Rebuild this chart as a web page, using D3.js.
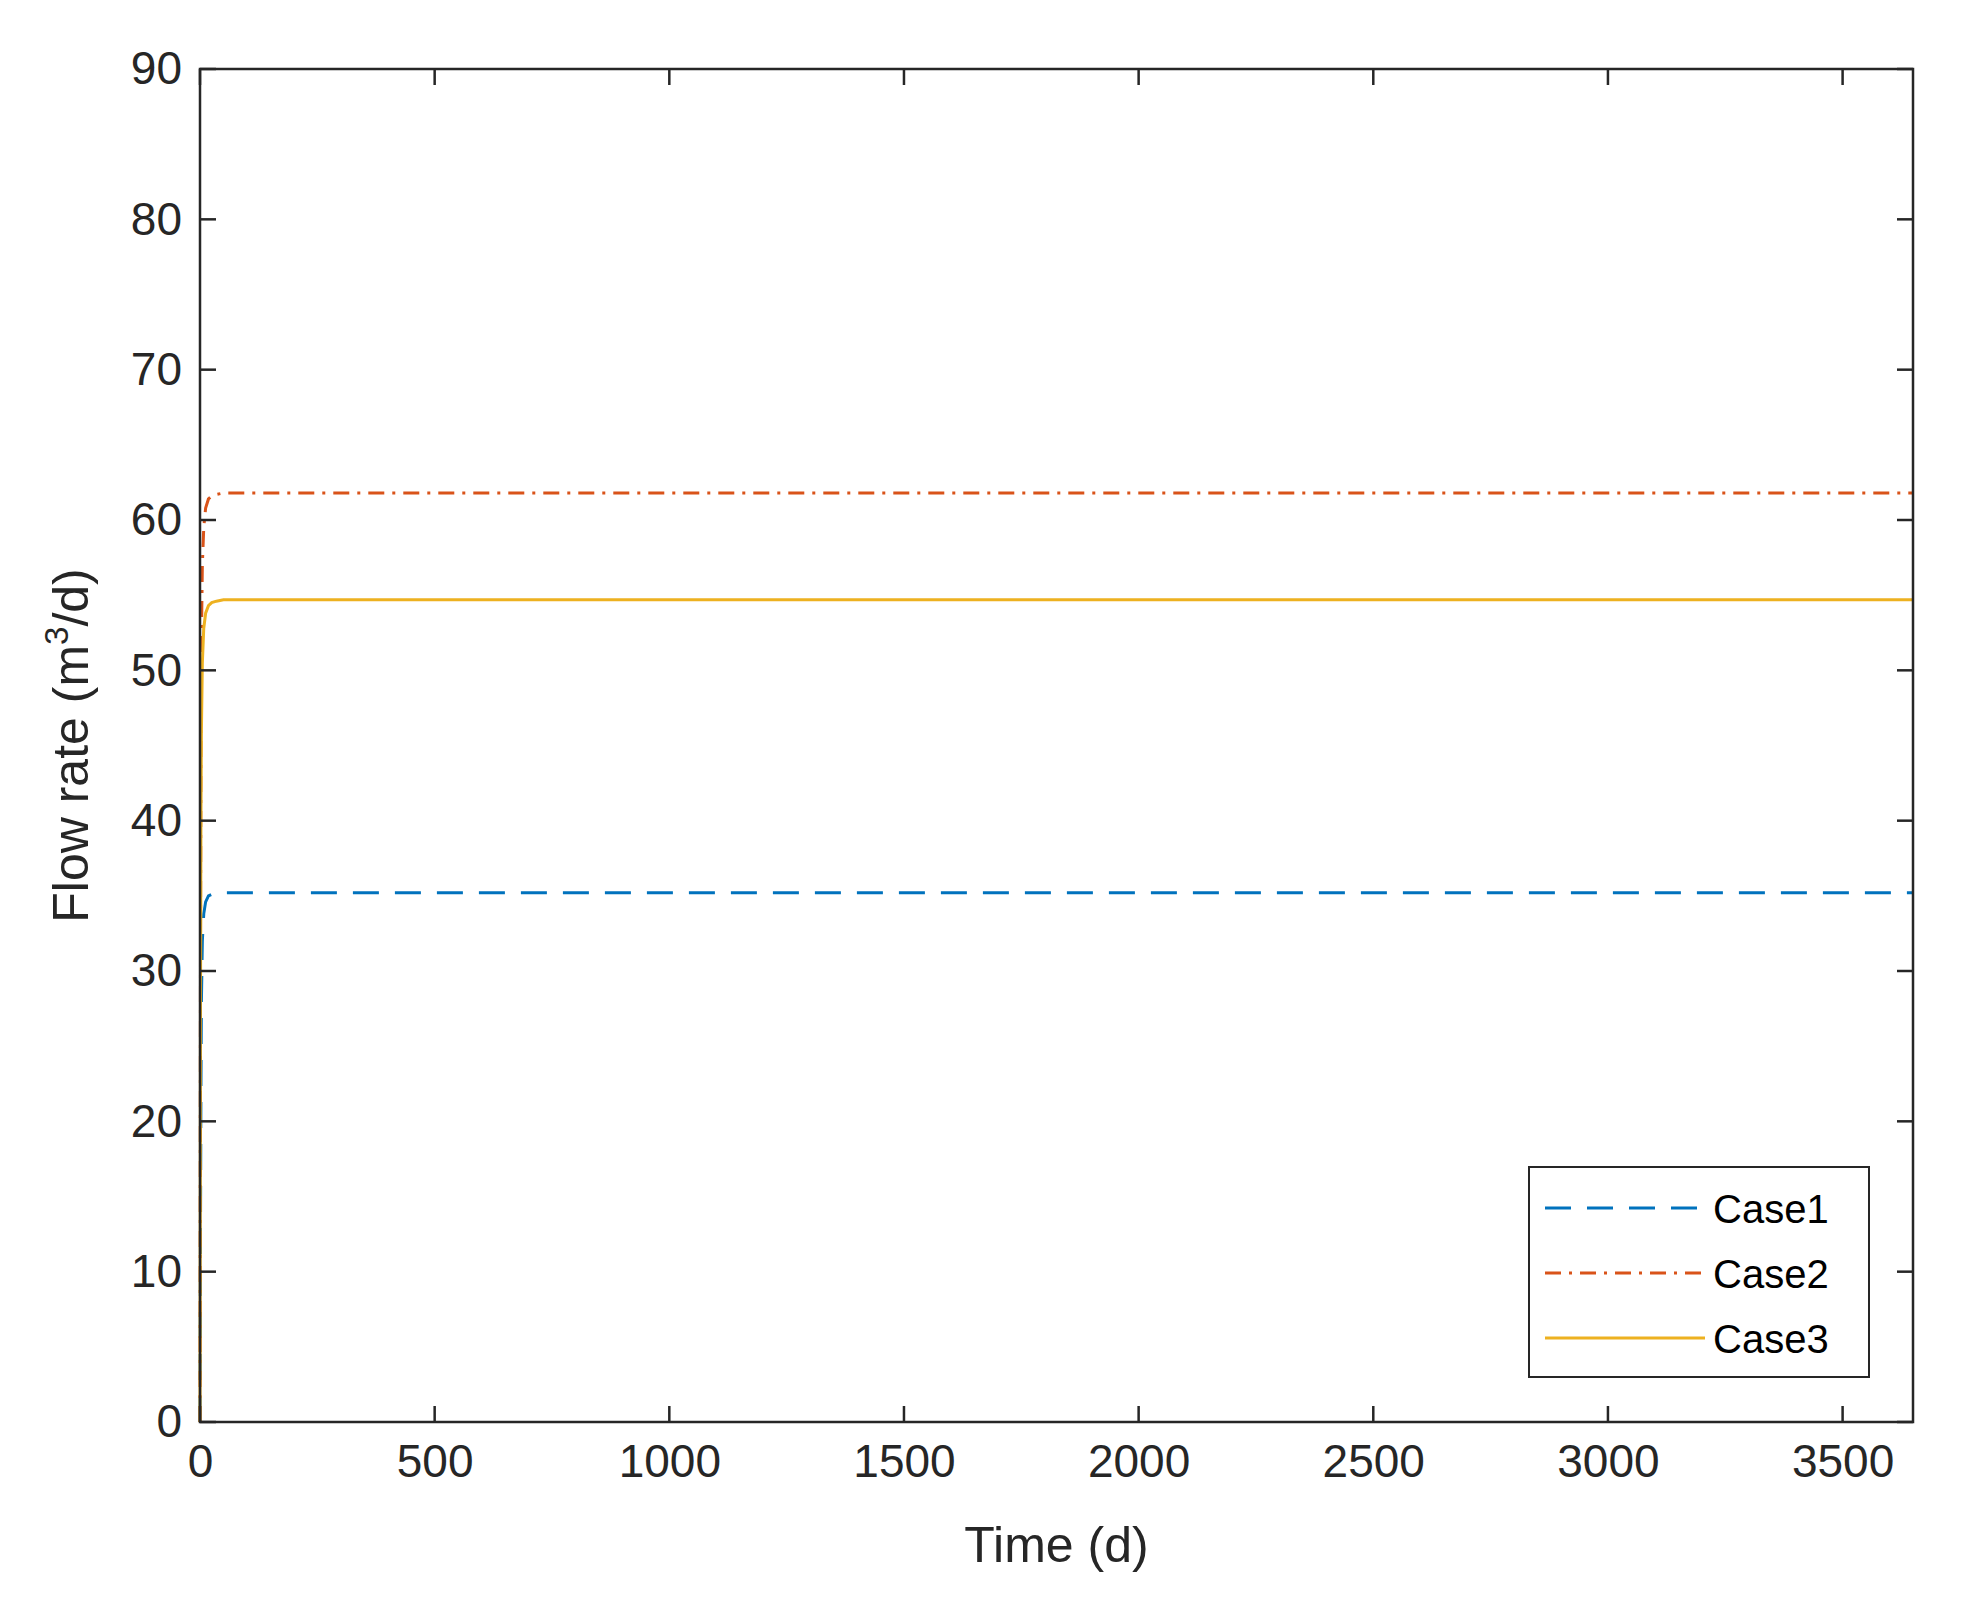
<!DOCTYPE html>
<html><head><meta charset="utf-8">
<script src="https://cdn.jsdelivr.net/npm/d3@7"></script>
<style>body{margin:0;background:#fff}svg{display:block}</style>
</head><body><div id="chart"></div>
<script>
const times = [0, 1, 2, 3, 5, 8, 12, 18, 25, 35, 50, 80, 200, 1000, 2000, 3000, 3650];
const case1 = [0, 12, 22, 28, 32, 33.8, 34.6, 35.0, 35.1, 35.2, 35.2, 35.2, 35.2, 35.2, 35.2, 35.2, 35.2];
const case2 = [0, 30, 45, 52, 57, 59.5, 60.8, 61.4, 61.6, 61.7, 61.8, 61.8, 61.8, 61.8, 61.8, 61.8, 61.8];
const case3 = [0, 27, 40, 46, 50.5, 52.8, 53.8, 54.3, 54.5, 54.6, 54.7, 54.7, 54.7, 54.7, 54.7, 54.7, 54.7];
const xTicks = [0, 500, 1000, 1500, 2000, 2500, 3000, 3500];
const yTicks = [0, 10, 20, 30, 40, 50, 60, 70, 80, 90];
const series = [
  { name: "Case1", values: case1, color: "#0072BD", dash: "26,16" },
  { name: "Case2", values: case2, color: "#D95319", dash: "16,8,3,8" },
  { name: "Case3", values: case3, color: "#EDB120", dash: null }
];

const W = 1964, H = 1611;
const m = { left: 200, right: 1913, top: 69, bottom: 1422 };
const font = "Arial, 'Liberation Sans', sans-serif";
const svg = d3.select("#chart").append("svg").attr("width", W).attr("height", H);

const x = d3.scaleLinear().domain([0, 3650]).range([m.left, m.right]);
const y = d3.scaleLinear().domain([0, 90]).range([m.bottom, m.top]);

const line = d3.line().x((d, i) => x(times[i])).y(d => y(d));
const plot = svg.append("g");
series.forEach(s => {
  plot.append("path").datum(s.values)
    .attr("fill", "none").attr("stroke", s.color).attr("stroke-width", 3)
    .attr("stroke-dasharray", s.dash).attr("d", line);
});

const tl = 16;
const gx = svg.append("g").attr("transform", `translate(0,${m.bottom})`)
  .call(d3.axisBottom(x).tickValues(xTicks).tickFormat(d3.format("d")).tickSize(0).tickPadding(22));
const gy = svg.append("g").attr("transform", `translate(${m.left},0)`)
  .call(d3.axisLeft(y).tickValues(yTicks).tickSize(0).tickPadding(18));
[gx, gy].forEach(g => {
  g.select(".domain").remove();
  g.selectAll("text").attr("font-family", font).attr("font-size", 46).attr("fill", "#262626");
});
// ticks inside on all four sides
const ticks = svg.append("g").attr("stroke", "#262626").attr("stroke-width", 2.5);
xTicks.forEach(t => {
  ticks.append("line").attr("x1", x(t)).attr("x2", x(t)).attr("y1", m.bottom).attr("y2", m.bottom - tl);
  ticks.append("line").attr("x1", x(t)).attr("x2", x(t)).attr("y1", m.top).attr("y2", m.top + tl);
});
yTicks.forEach(t => {
  ticks.append("line").attr("x1", m.left).attr("x2", m.left + tl).attr("y1", y(t)).attr("y2", y(t));
  ticks.append("line").attr("x1", m.right).attr("x2", m.right - tl).attr("y1", y(t)).attr("y2", y(t));
});
svg.append("rect").attr("x", m.left).attr("y", m.top)
  .attr("width", m.right - m.left).attr("height", m.bottom - m.top)
  .attr("fill", "none").attr("stroke", "#262626").attr("stroke-width", 2.5);

svg.append("text").attr("x", (m.left + m.right) / 2).attr("y", 1562)
  .attr("text-anchor", "middle").attr("font-family", font).attr("font-size", 50).attr("fill", "#262626")
  .text("Time (d)");
const yl = svg.append("text").attr("transform", `translate(88,${(m.top + m.bottom) / 2}) rotate(-90)`)
  .attr("text-anchor", "middle").attr("font-family", font).attr("font-size", 50).attr("fill", "#262626");
yl.append("tspan").text("Flow rate (m");
yl.append("tspan").attr("font-size", 33).attr("dy", -20).text("3");
yl.append("tspan").attr("dy", 20).text("/d)");

// legend
const lg = svg.append("g").attr("transform", "translate(1529,1167)");
lg.append("rect").attr("width", 340).attr("height", 210)
  .attr("fill", "#fff").attr("stroke", "#262626").attr("stroke-width", 2);
series.forEach((s, i) => {
  const cy = 41 + i * 65;
  lg.append("line").attr("x1", 16).attr("x2", 176).attr("y1", cy).attr("y2", cy)
    .attr("stroke", s.color).attr("stroke-width", 3).attr("stroke-dasharray", s.dash);
  lg.append("text").attr("x", 184).attr("y", cy + 15).attr("font-family", font)
    .attr("font-size", 40).attr("fill", "#000").text(s.name);
});
</script></body></html>
